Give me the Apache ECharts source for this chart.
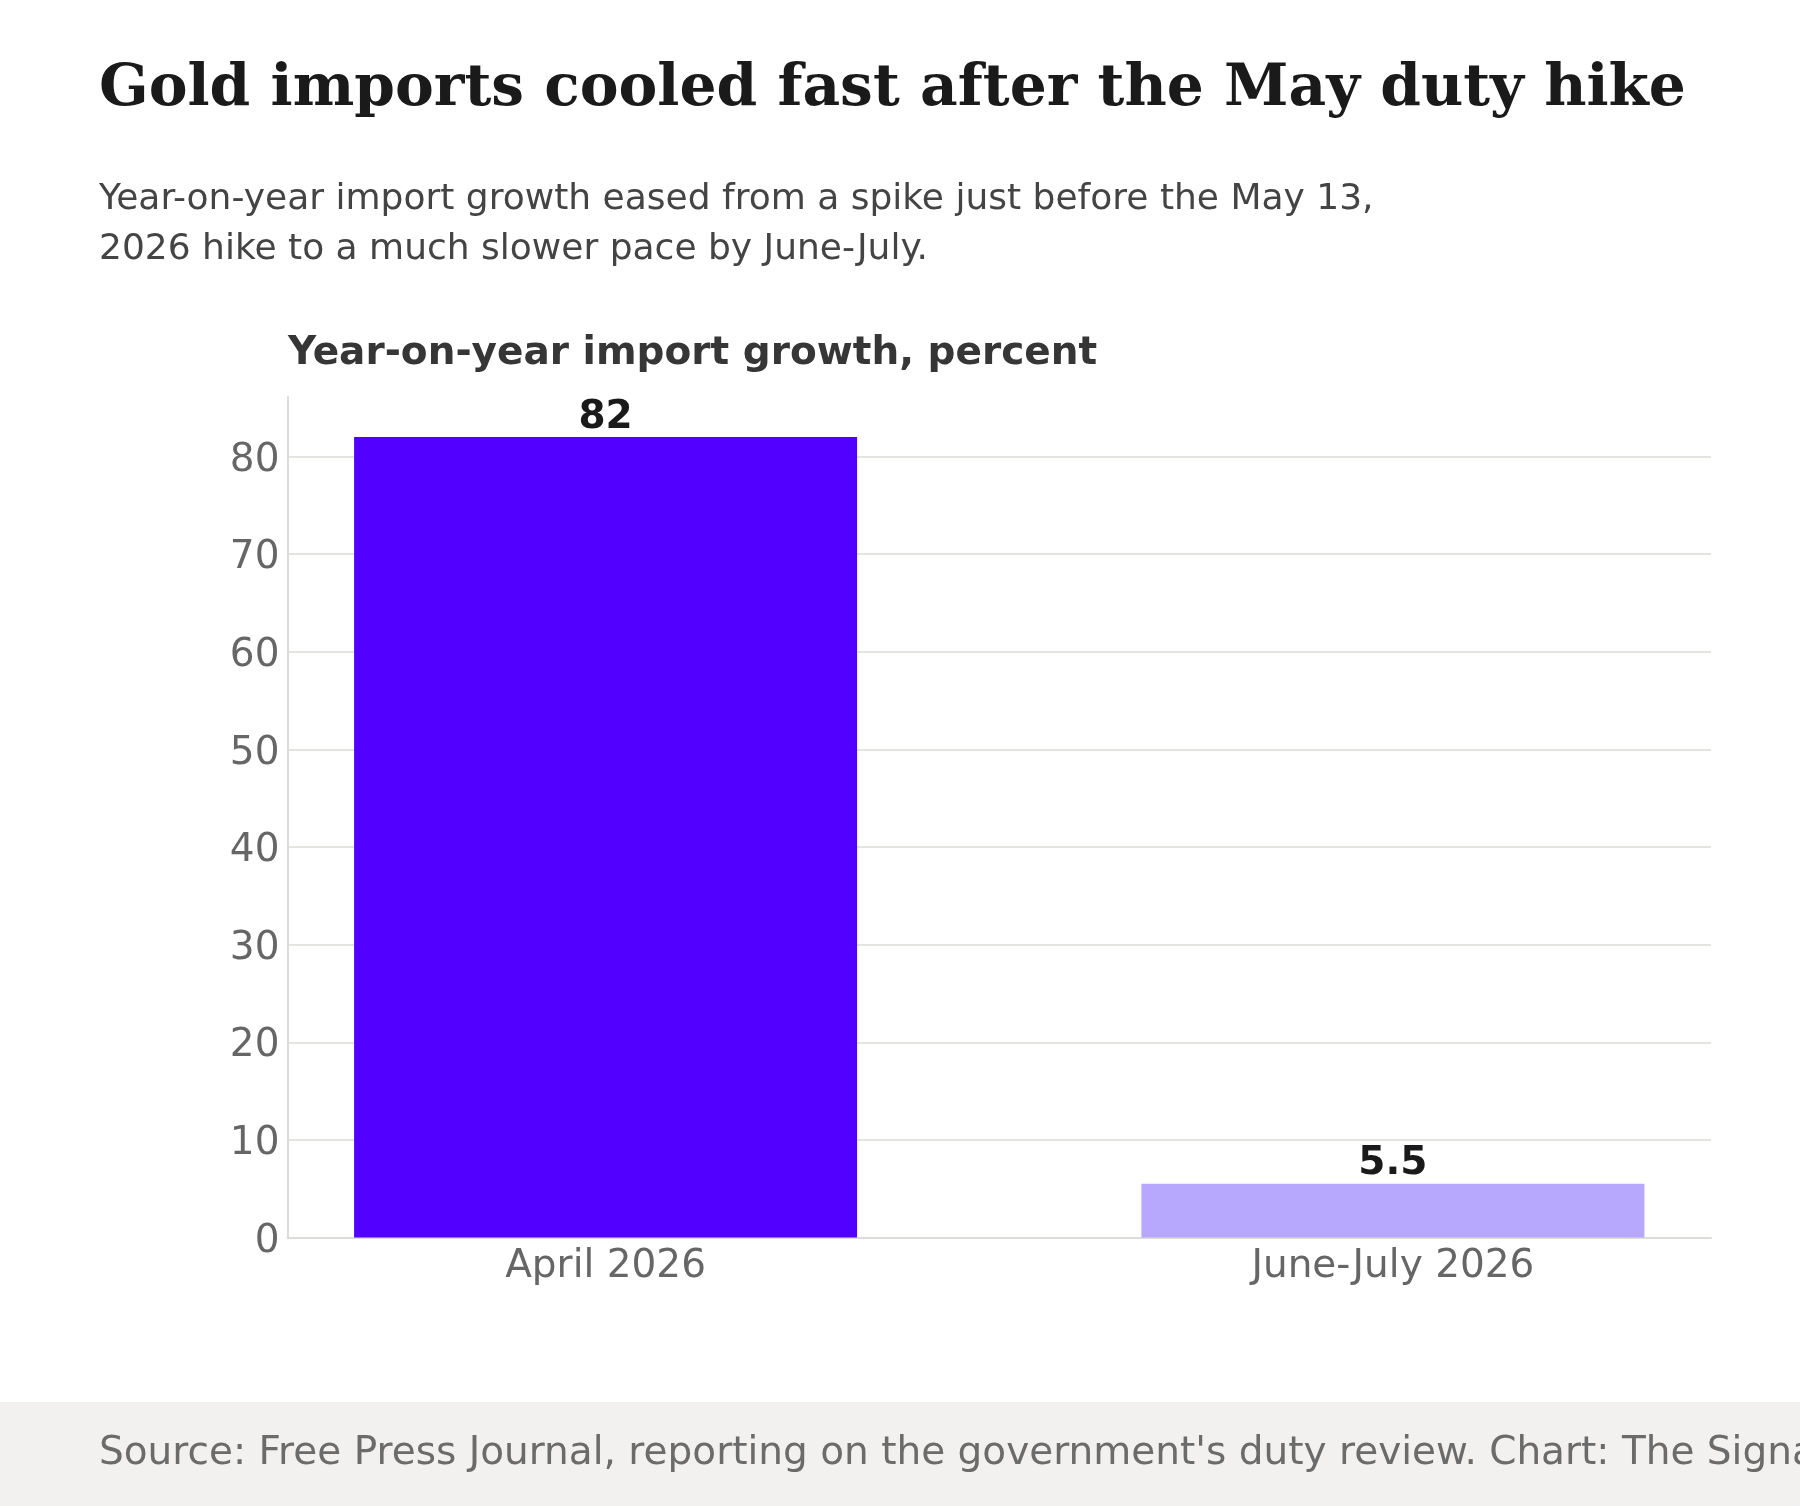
<!DOCTYPE html>
<html>
<head>
<meta charset="utf-8">
<title>Gold imports cooled fast after the May duty hike</title>
<script src="https://cdn.jsdelivr.net/npm/echarts@6/dist/echarts.min.js"></script>
<style>
  html, body { margin: 0; padding: 0; background: #ffffff; }
  #chart { width: 1800px; height: 1506px; }
</style>
</head>
<body>
<div id="chart"></div>
<script>
// data
var categories = ['April 2026', 'June-July 2026'];
var growthValues = [82, 5.5];
var growthLabels = ['82', '5.5'];
var barColors = ['#5200ff', '#b8a8fd'];
var yTicks = [0, 10, 20, 30, 40, 50, 60, 70, 80];

var titleText = 'Gold imports cooled fast after the May duty hike';
var subtitleText = 'Year-on-year import growth eased from a spike just before the May 13,\n2026 hike to a much slower pace by June-July.';
var axisTitleText = 'Year-on-year import growth, percent';
var sourceText = "Source: Free Press Journal, reporting on the government's duty review. Chart: The Signal";

var sans = '"DejaVu Sans", sans-serif';
var serif = '"DejaVu Serif", serif';

var chart = echarts.init(document.getElementById('chart'), null, { renderer: 'canvas' });

var barData = growthValues.map(function (v, i) {
    return {
        value: [i, v],
        itemStyle: { color: barColors[i] },
        label: { formatter: growthLabels[i] }
    };
});

var option = {
    backgroundColor: '#ffffff',
    animation: false,
    title: [
        {
            text: titleText,
            left: 99, top: 55, padding: 0,
            textStyle: { fontFamily: serif, fontWeight: 'bold', fontSize: 58.2, color: '#1a1a1a', lineHeight: 70 }
        },
        {
            text: subtitleText,
            left: 99, top: 175, padding: 0,
            textStyle: { fontFamily: sans, fontWeight: 'normal', fontSize: 36, color: '#444444', lineHeight: 50 }
        },
        {
            text: axisTitleText,
            left: 288, top: 330, padding: 0,
            textStyle: { fontFamily: sans, fontWeight: 'bold', fontSize: 39, color: '#363636', lineHeight: 48 }
        }
    ],
    graphic: [
        {
            type: 'rect',
            left: 0, top: 1402,
            shape: { width: 1800, height: 104 },
            style: { fill: '#f2f1ef' },
            silent: true
        },
        {
            type: 'text',
            left: 99, top: 1434,
            style: { text: sourceText, font: '39px ' + sans, fill: '#6b6b6b' },
            silent: true
        }
    ],
    grid: { left: 287.5, right: 89, top: 397, bottom: 268.5, containLabel: false },
    xAxis: {
        type: 'value',
        min: -0.404,
        max: 1.404,
        splitLine: { show: false },
        axisTick: { show: false },
        axisLine: { show: true, onZero: false, lineStyle: { color: '#dcdcd8', width: 2 } },
        axisLabel: {
            customValues: [0, 1],
            formatter: function (v) { return categories[Math.round(v)]; },
            fontFamily: sans, fontSize: 39, color: '#666666', margin: 10
        }
    },
    yAxis: {
        type: 'value',
        min: 0,
        max: 86.1,
        interval: 10,
        axisLine: { show: true, onZero: false, lineStyle: { color: '#dcdcd8', width: 2 } },
        axisTick: { show: false },
        splitLine: { show: true, showMaxLine: false, lineStyle: { color: '#e4e4e1', width: 2 } },
        axisLabel: {
            customValues: yTicks,
            formatter: '{t|{value}}',
            margin: 8,
            rich: {
                t: { fontFamily: sans, fontSize: 39, color: '#666666', padding: [8, 0, 0, 0] }
            }
        }
    },
    series: [{
        type: 'bar',
        barWidth: 503,
        data: barData,
        label: {
            show: true,
            position: 'top',
            distance: 0,
            fontFamily: sans, fontWeight: 'bold', fontSize: 39, color: '#1a1a1a'
        }
    }]
};

chart.setOption(option);
</script>
</body>
</html>
